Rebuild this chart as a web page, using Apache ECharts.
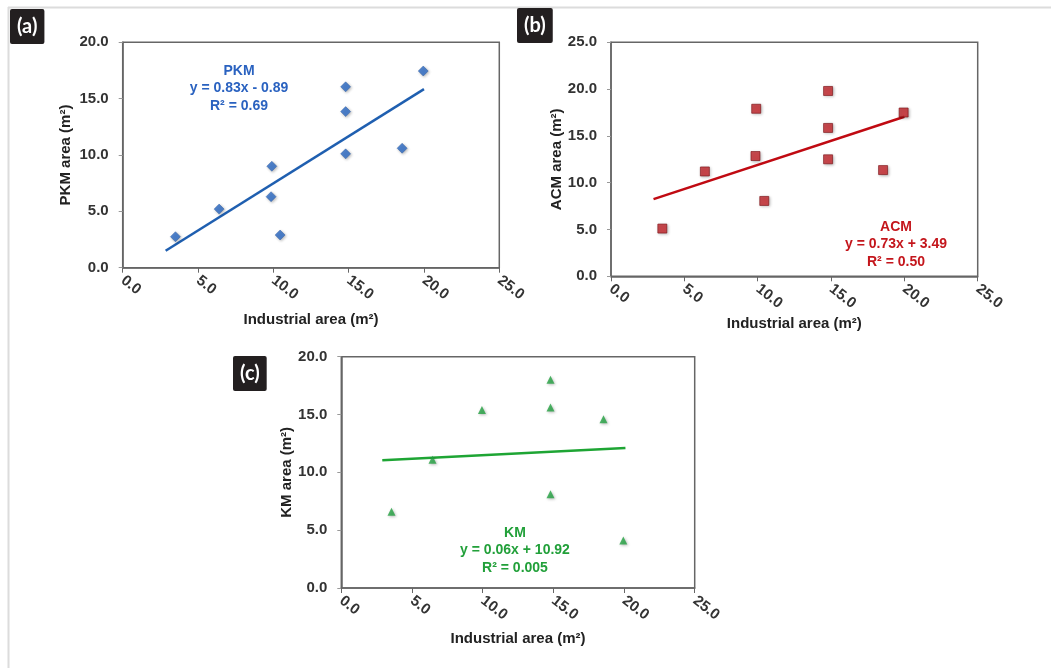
<!DOCTYPE html>
<html>
<head>
<meta charset="utf-8">
<script src="https://cdn.jsdelivr.net/npm/echarts@6/dist/echarts.min.js"></script>
<style>
  html, body { margin: 0; padding: 0; background: #fff; }
  #chart { width: 1051px; height: 668px; }
</style>
</head>
<body>
<div id="chart"></div>
<script>
// values
const industrialX = [3.5, 6.4, 9.9, 9.85, 10.45, 14.8, 14.8, 14.8, 18.55, 19.95];
const pkmY = [2.75, 5.2, 9.0, 6.3, 2.9, 16.05, 13.85, 10.1, 10.6, 17.45];
const acmY = [5.1, 11.2, 17.9, 12.85, 8.05, 19.8, 15.85, 12.5, 11.35, 17.5];
const kmX = [3.55, 6.45, 9.95, 14.8, 14.8, 14.8, 18.55, 19.95];
const kmY = [6.6, 11.1, 15.4, 18.0, 15.6, 8.1, 14.6, 4.1];

// trend line ends as drawn
const pkmFitX = [2.85, 20.0];
const pkmFitY = [1.5, 15.85];
const acmFitX = [2.9, 20.0];
const acmFitY = [8.25, 17.05];
const kmFitX = [2.9, 20.1];
const kmFitY = [11.05, 12.1];

const pkmNote = ['PKM', 'y = 0.83x - 0.89', 'R² = 0.69'];
const acmNote = ['ACM', 'y = 0.73x + 3.49', 'R² = 0.50'];
const kmNote = ['KM', 'y = 0.06x + 10.92', 'R² = 0.005'];

const zip = (xs, ys) => xs.map((x, i) => [x, ys[i]]);

const chart = echarts.init(document.getElementById('chart'));

function xAxisFor(gi, gap) {
  return {
    gridIndex: gi, type: 'value', min: 0, max: 25, interval: 5,
    name: 'Industrial area (m²)', nameLocation: 'middle', nameGap: gap,
    nameTextStyle: { fontFamily: 'Liberation Sans', fontWeight: 'bold', fontSize: 15, color: '#222' },
    axisLine: { lineStyle: { color: '#666', width: 1.5 } },
    axisTick: { show: true, length: 5, lineStyle: { color: '#666' } },
    axisLabel: { rotate: -38, margin: 11, fontFamily: 'Liberation Sans', fontSize: 15, fontWeight: 'bold', color: '#333',
      formatter: v => v.toFixed(1) },
    splitLine: { show: false }
  };
}
function yAxisFor(gi, max, name, gap) {
  return {
    gridIndex: gi, type: 'value', min: 0, max: max, interval: 5,
    name: name, nameLocation: 'middle', nameGap: gap,
    nameTextStyle: { fontFamily: 'Liberation Sans', fontWeight: 'bold', fontSize: 15, color: '#222' },
    axisLine: { show: true, lineStyle: { color: '#666', width: 1.5 } },
    axisTick: { show: true, length: 4, lineStyle: { color: '#999' } },
    axisLabel: { margin: 14, fontFamily: 'Liberation Sans', fontSize: 15, fontWeight: 'bold', color: '#333',
      formatter: v => v.toFixed(1) },
    splitLine: { show: false }
  };
}
function panelTag(txt, left, top) {
  return {
    text: txt, left: left, top: top, padding: [6, 7],
    backgroundColor: '#231f20', borderRadius: 2,
    textStyle: { color: '#fff', fontFamily: 'Lato', fontSize: 20, fontWeight: 'bold', lineHeight: 23 }
  };
}
function note(lines, x, y, color) {
  return {
    type: 'text', x: x, y: y,
    style: {
      text: lines.join('\n'), fill: color, align: 'center', verticalAlign: 'top',
      font: 'bold 14px "Liberation Sans"', lineHeight: 17.5
    }
  };
}

const shadow = { shadowBlur: 3, shadowColor: 'rgba(0,0,0,0.35)', shadowOffsetX: 1, shadowOffsetY: 1 };

chart.setOption({
  backgroundColor: '#fff',
  animation: false,
  title: [
    panelTag('(a)', 10, 9),
    panelTag('(b)', 517, 8),
    panelTag('(c)', 233, 356)
  ],
  grid: [
    { left: 122.7, top: 42.3, right: 551.7, bottom: 400.3, show: true, borderColor: '#666', borderWidth: 1.5 },
    { left: 611, top: 42.3, right: 73.3, bottom: 391.7, show: true, borderColor: '#666', borderWidth: 1.5 },
    { left: 341.3, top: 356.7, right: 356.3, bottom: 80, show: true, borderColor: '#666', borderWidth: 1.5 }
  ],
  xAxis: [xAxisFor(0, 45), xAxisFor(1, 40), xAxisFor(2, 43)],
  yAxis: [
    yAxisFor(0, 20, 'PKM area (m²)', 49),
    yAxisFor(1, 25, 'ACM area (m²)', 45),
    yAxisFor(2, 20, 'KM area (m²)', 43)
  ],
  graphic: [
    { type: 'line', shape: { x1: 8, y1: 7.5, x2: 1051, y2: 7.5 }, style: { stroke: '#dcdcdc', lineWidth: 2 } },
    { type: 'line', shape: { x1: 8.5, y1: 7, x2: 8.5, y2: 668 }, style: { stroke: '#dcdcdc', lineWidth: 2 } },
    note(pkmNote, 239, 62, '#2a62c0'),
    note(acmNote, 896, 218, '#c4161c'),
    note(kmNote, 515, 524, '#22a03a')
  ],
  series: [
    { type: 'line', xAxisIndex: 0, yAxisIndex: 0, data: zip(pkmFitX, pkmFitY), symbol: 'none',
      lineStyle: { color: '#1f5fb0', width: 2.5 }, z: 2 },
    { type: 'scatter', xAxisIndex: 0, yAxisIndex: 0, data: zip(industrialX, pkmY), symbol: 'diamond', symbolSize: 10,
      itemStyle: Object.assign({ color: '#2c6cc8', borderColor: '#1d4f99', borderWidth: 0.5 }, shadow), z: 3 },
    { type: 'line', xAxisIndex: 1, yAxisIndex: 1, data: zip(acmFitX, acmFitY), symbol: 'none',
      lineStyle: { color: '#c00a12', width: 2.5 }, z: 2 },
    { type: 'scatter', xAxisIndex: 1, yAxisIndex: 1, data: zip(industrialX, acmY), symbol: 'rect', symbolSize: 9,
      itemStyle: Object.assign({ color: '#c8252c', borderColor: '#7a1015', borderWidth: 0.8 }, shadow), z: 3 },
    { type: 'line', xAxisIndex: 2, yAxisIndex: 2, data: zip(kmFitX, kmFitY), symbol: 'none',
      lineStyle: { color: '#1ea534', width: 2.5 }, z: 2 },
    { type: 'scatter', xAxisIndex: 2, yAxisIndex: 2, data: zip(kmX, kmY), symbol: 'triangle', symbolSize: 8,
      itemStyle: Object.assign({ color: '#22a040' }, shadow), z: 3 }
  ]
});
</script>
</body>
</html>
